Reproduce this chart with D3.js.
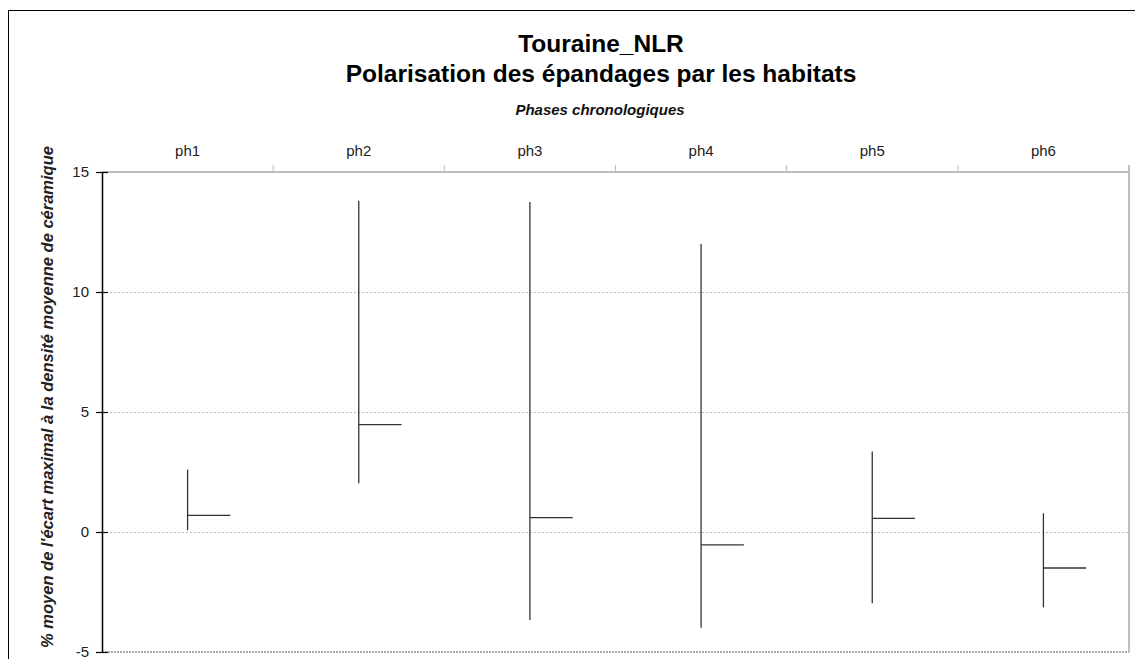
<!DOCTYPE html>
<html>
<head>
<meta charset="utf-8">
<script src="https://cdn.jsdelivr.net/npm/d3@7"></script>
<style>
  body { margin: 0; background: #fff; }
  svg { display: block; font-family: "Liberation Sans", Arial, sans-serif; }
</style>
</head>
<body>
<svg id="chart" width="1135" height="659"></svg>
<script>
// donnees
const phases = ['ph1', 'ph2', 'ph3', 'ph4', 'ph5', 'ph6']
const maxVals = [2.6, 13.8, 13.75, 12.0, 3.35, 0.78]
const minVals = [0.08, 2.03, -3.67, -3.99, -2.97, -3.14]
const meanVals = [0.69, 4.47, 0.6, -0.54, 0.57, -1.5]
const yTicks = [-5, 0, 5, 10, 15]

const svg = d3.select('#chart')
const marge = { top: 172, left: 102, right: 1129, bottom: 652 }

// cadre exterieur (coupe a droite et en bas)
svg.append('rect')
  .attr('x', 8.5).attr('y', 10.5)
  .attr('width', 1200).attr('height', 700)
  .attr('fill', 'none').attr('stroke', '#000').attr('stroke-width', 1)

const x = d3.scaleBand()
  .domain(phases)
  .range([marge.left, marge.right])

const y = d3.scaleLinear()
  .domain([-5, 15])
  .range([marge.bottom, marge.top])

// titres
svg.append('text')
  .attr('x', 601).attr('y', 52)
  .attr('text-anchor', 'middle')
  .style('font-size', '24.5px').style('font-weight', 'bold')
  .text('Touraine_NLR')
svg.append('text')
  .attr('x', 601).attr('y', 82)
  .attr('text-anchor', 'middle')
  .style('font-size', '24.5px').style('font-weight', 'bold')
  .text('Polarisation des épandages par les habitats')
svg.append('text')
  .attr('x', 600).attr('y', 115)
  .attr('text-anchor', 'middle')
  .style('font-size', '15px').style('font-weight', 'bold').style('font-style', 'italic')
  .attr('fill', '#111')
  .text('Phases chronologiques')

// grille
svg.append('g')
  .selectAll('line')
  .data(yTicks.filter(d => d > -5 && d < 15))
  .enter()
  .append('line')
  .attr('x1', marge.left).attr('x2', marge.right)
  .attr('y1', d => y(d) + 0.5).attr('y2', d => y(d) + 0.5)
  .attr('stroke', '#bbb').attr('stroke-dasharray', '2,2')

// ligne du bas (-5)
svg.append('line')
  .attr('x1', marge.left).attr('x2', marge.right)
  .attr('y1', y(-5)).attr('y2', y(-5))
  .attr('stroke', '#aaa').attr('stroke-width', 2).attr('stroke-dasharray', '2,1')

// bord droit
svg.append('line')
  .attr('x1', marge.right).attr('x2', marge.right)
  .attr('y1', marge.top - 7).attr('y2', marge.bottom)
  .attr('stroke', '#aaa').attr('stroke-width', 1.5)

// axe du haut (categories)
const xAxis = d3.axisTop(x).tickSize(0).tickPadding(16)
const gx = svg.append('g')
  .attr('transform', `translate(0,${marge.top})`)
  .call(xAxis)
gx.select('.domain').remove()
gx.selectAll('text')
  .style('font-size', '15px').style('font-family', '"Liberation Sans", Arial, sans-serif')
  .attr('fill', '#222')
svg.append('line')
  .attr('x1', marge.left).attr('x2', marge.right)
  .attr('y1', marge.top).attr('y2', marge.top)
  .attr('stroke', '#bbb').attr('stroke-width', 2)
svg.append('g')
  .selectAll('line')
  .data(phases.slice(1))
  .enter()
  .append('line')
  .attr('x1', d => x(d)).attr('x2', d => x(d))
  .attr('y1', marge.top - 7).attr('y2', marge.top)
  .attr('stroke', '#bbb')

// axe y
const yAxis = d3.axisLeft(y).tickValues(yTicks).tickSize(6).tickPadding(7)
  .tickFormat(d => String(d))
const gy = svg.append('g')
  .attr('transform', `translate(${marge.left},0)`)
  .call(yAxis)
gy.select('.domain').attr('d', `M0.5,${marge.top}V${marge.bottom}`).attr('stroke', '#000').attr('stroke-width', 1.5)
gy.selectAll('.tick line').attr('x2', -6).attr('x1', 6).attr('stroke', '#000').attr('stroke-width', 1.2)
gy.selectAll('text')
  .style('font-size', '15px').style('font-family', '"Liberation Sans", Arial, sans-serif')
  .attr('fill', '#222')

svg.append('text')
  .attr('transform', `translate(53,397) rotate(-90)`)
  .attr('text-anchor', 'middle')
  .style('font-size', '16.5px').style('font-weight', 'bold').style('font-style', 'italic')
  .attr('fill', '#222')
  .text("% moyen de l'écart maximal à la densité moyenne de céramique")

// barres min-max et moyenne
const mid = d => x(d) + x.bandwidth() / 2
const marks = svg.append('g')
marks.selectAll('line.range')
  .data(phases)
  .enter()
  .append('line')
  .attr('class', 'range')
  .attr('x1', d => mid(d)).attr('x2', d => mid(d))
  .attr('y1', (d, i) => y(maxVals[i])).attr('y2', (d, i) => y(minVals[i]))
  .attr('stroke', '#333').attr('stroke-width', 1.3)
marks.selectAll('line.mean')
  .data(phases)
  .enter()
  .append('line')
  .attr('class', 'mean')
  .attr('x1', d => mid(d)).attr('x2', d => mid(d) + x.bandwidth() / 4)
  .attr('y1', (d, i) => y(meanVals[i])).attr('y2', (d, i) => y(meanVals[i]))
  .attr('stroke', '#333').attr('stroke-width', 1.3)
</script>
</body>
</html>
